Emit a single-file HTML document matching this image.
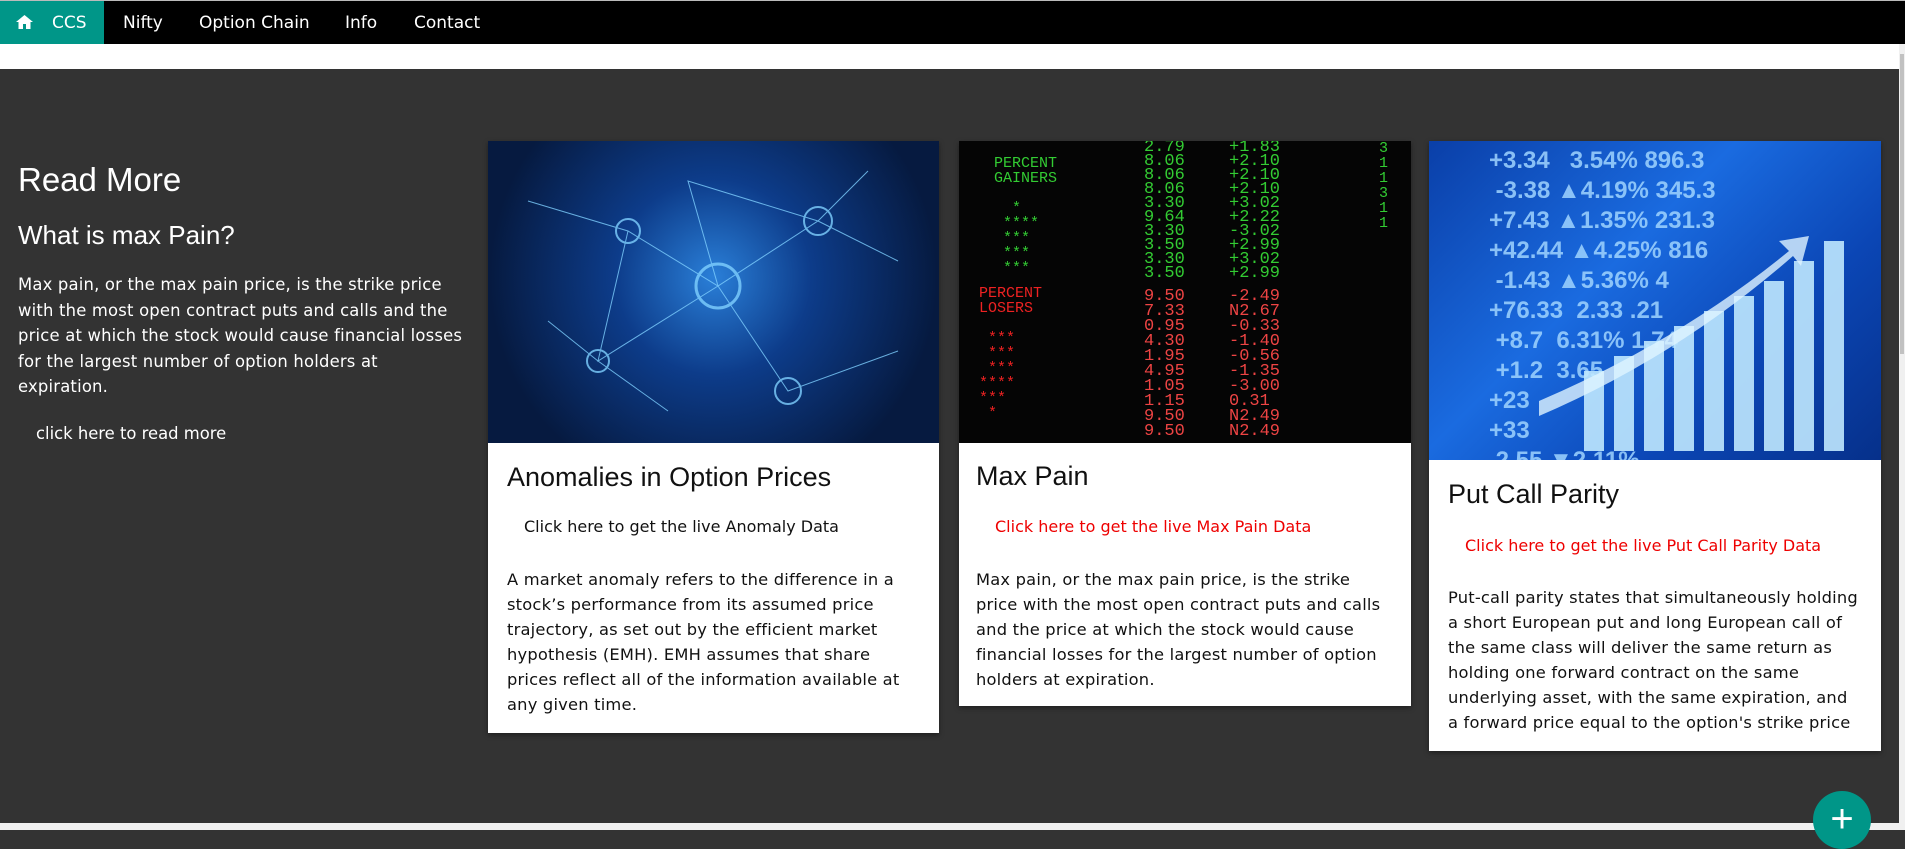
<!DOCTYPE html>
<html><head><meta charset="utf-8"><style>
*{margin:0;padding:0;box-sizing:border-box}
body{width:1905px;height:830px;overflow:hidden;background:#333;font-family:"DejaVu Sans",Verdana,sans-serif;position:relative}
.nav{position:absolute;left:0;top:0;width:1905px;height:44px;background:#000;border-top:1px solid #bbb}
.nav span{position:absolute;top:12px;color:#fff;font-size:17px}
.home{position:absolute;left:0;top:0;width:104px;height:43px;background:#009688}
.white{position:absolute;left:0;top:44px;width:1899px;height:25px;background:#fff}
.scroll{position:absolute;right:0;top:44px;width:6px;height:786px;background:#f0f0f0}
.scroll i{position:absolute;left:1px;top:10px;width:4px;height:300px;background:#c1c1c1}
.bottom{position:absolute;left:0;top:823px;width:1905px;height:7px;background:#f0f0f0}
h1,h2,.ct{font-family:"Liberation Sans",sans-serif;font-weight:normal;position:absolute}
.lt{color:#fff;position:absolute}
.card{position:absolute;background:#fff;box-shadow:0 2px 5px rgba(0,0,0,.4)}
.img{position:absolute;left:0;top:0;width:100%;overflow:hidden}
.ct{font-size:27px;color:#111;left:19px}
.lk{position:absolute;font-size:16px}
.ds{position:absolute;left:19px;right:20px;font-size:16.3px;letter-spacing:0.2px;line-height:25px;color:#111}
.fab{position:absolute;left:1813px;top:791px;width:58px;height:58px;border-radius:50%;background:#009688;color:#fff;font-size:40px;text-align:center;line-height:56px;font-family:"Liberation Sans",sans-serif}
</style></head><body>
<div class="nav">
<div class="home"></div>
<svg style="position:absolute;left:16px;top:14px" width="17" height="14" viewBox="0 0 17 14"><path d="M8.5 0L0 7h2.5v7h4.5V9h3v5h4.5V7H17z" fill="#fff"/></svg>
<span style="left:52px">CCS</span><span style="left:123px">Nifty</span><span style="left:199px">Option Chain</span><span style="left:345px">Info</span><span style="left:414px">Contact</span>
</div>
<div class="white"></div>
<div class="scroll"><i></i></div>
<div class="bottom"></div>

<h1 class="lt" style="left:18px;top:161px;font-size:33px">Read More</h1>
<h2 class="lt" style="left:18px;top:220px;font-size:26px">What is max Pain?</h2>
<div class="lt" style="left:18px;top:272px;width:455px;font-size:16.4px;letter-spacing:0.2px;line-height:25.5px">Max pain, or the max pain price, is the strike price with the most open contract puts and calls and the price at which the stock would cause financial losses for the largest number of option holders at expiration.</div>
<div class="lt" style="left:36px;top:424px;font-size:16.4px">click here to read more</div>

<div class="card" style="left:488px;top:141px;width:451px;height:592px">
<div class="img" style="height:302px;background:radial-gradient(circle at 50% 45%,#2a7fd8 0,#0d3c8a 35%,#061a40 80%)">
<svg width="451" height="302" style="position:absolute;left:0;top:0" stroke="#7fd0ff" stroke-width="1" fill="none" opacity=".8">
<path d="M40 60L140 90L230 145L330 80L410 120M140 90L110 220L230 145L300 250L410 210M230 145L200 40L330 80M60 180L110 220L180 270M330 80L380 30M300 250L230 145"/>
<circle cx="230" cy="145" r="22" stroke-width="3"/><circle cx="330" cy="80" r="14" stroke-width="2"/><circle cx="140" cy="90" r="12" stroke-width="2"/><circle cx="300" cy="250" r="13" stroke-width="2"/><circle cx="110" cy="220" r="11" stroke-width="2"/>
</svg></div>
<div class="ct" style="top:321px">Anomalies in Option Prices</div>
<div class="lk" style="left:36px;top:376px;color:#111">Click here to get the live Anomaly Data</div>
<div class="ds" style="top:426px">A market anomaly refers to the difference in a stock’s performance from its assumed price trajectory, as set out by the efficient market hypothesis (EMH). EMH assumes that share prices reflect all of the information available at any given time.</div>
</div>

<div class="card" style="left:959px;top:141px;width:452px;height:565px">
<div class="img" style="height:302px;background:#050505;font-family:'Liberation Mono',monospace;font-size:15px;line-height:15px">
<div style="position:absolute;left:35px;top:15px;color:#3c3">PERCENT<br>GAINERS<br><br>&nbsp;&nbsp;*<br>&nbsp;****<br>&nbsp;***<br>&nbsp;***<br>&nbsp;***</div>
<div style="position:absolute;left:20px;top:145px;color:#e22">PERCENT<br>LOSERS<br><br>&nbsp;***<br>&nbsp;***<br>&nbsp;***<br>****<br>***<br>&nbsp;*</div>
<div style="position:absolute;left:185px;top:0;color:#3c3;font-size:17px;line-height:14px">2.79<br>8.06<br>8.06<br>8.06<br>3.30<br>9.64<br>3.30<br>3.50<br>3.30<br>3.50</div>
<div style="position:absolute;left:270px;top:0;color:#3c3;font-size:17px;line-height:14px">+1.83<br>+2.10<br>+2.10<br>+2.10<br>+3.02<br>+2.22<br>-3.02<br>+2.99<br>+3.02<br>+2.99</div>
<div style="position:absolute;left:185px;top:148px;color:#e44;font-size:17px;line-height:15px">9.50<br>7.33<br>0.95<br>4.30<br>1.95<br>4.95<br>1.05<br>1.15<br>9.50<br>9.50</div>
<div style="position:absolute;left:270px;top:148px;color:#e44;font-size:17px;line-height:15px">-2.49<br>N2.67<br>-0.33<br>-1.40<br>-0.56<br>-1.35<br>-3.00<br>0.31<br>N2.49<br>N2.49</div>
<div style="position:absolute;left:420px;top:0;color:#3c3">3<br>1<br>1<br>3<br>1<br>1</div>
</div>
<div class="ct" style="top:320px;left:17px">Max Pain</div>
<div class="lk" style="left:36px;top:376px;color:#e00">Click here to get the live Max Pain Data</div>
<div class="ds" style="top:426px;left:17px">Max pain, or the max pain price, is the strike price with the most open contract puts and calls and the price at which the stock would cause financial losses for the largest number of option holders at expiration.</div>
</div>

<div class="card" style="left:1429px;top:141px;width:452px;height:610px">
<div class="img" style="height:319px;background:linear-gradient(135deg,#0a3fa8 0,#1a6be0 40%,#0b46b5 70%,#06308a 100%)">
<div style="position:absolute;left:60px;top:5px;color:#9fd4ff;font-family:'Liberation Sans';font-size:24px;line-height:30px;font-weight:bold;opacity:.85">+3.34 &nbsp; 3.54% 896.3<br>&nbsp;-3.38 ▲4.19% 345.3<br>+7.43 ▲1.35% 231.3<br>+42.44 ▲4.25% 816<br>&nbsp;-1.43 ▲5.36% 4<br>+76.33 &nbsp;2.33 .21<br>&nbsp;+8.7 &nbsp;6.31% 1.74<br>&nbsp;+1.2 &nbsp;3.65<br>+23<br>+33<br>&nbsp;2.55 ▼2.11%</div>
<svg width="452" height="319" style="position:absolute;left:0;top:0"><g fill="#bfe8ff" opacity=".9"><rect x="155" y="230" width="20" height="80"/><rect x="185" y="215" width="20" height="95"/><rect x="215" y="200" width="20" height="110"/><rect x="245" y="185" width="20" height="125"/><rect x="275" y="170" width="20" height="140"/><rect x="305" y="155" width="20" height="155"/><rect x="335" y="140" width="20" height="170"/><rect x="365" y="120" width="20" height="190"/><rect x="395" y="100" width="20" height="210"/></g><path d="M110 260Q250 200 360 110L350 100L380 95L372 125L364 115Q250 215 110 275Z" fill="#dff4ff" opacity=".8"/></svg>
</div>
<div class="ct" style="top:338px">Put Call Parity</div>
<div class="lk" style="left:36px;top:395px;color:#e00">Click here to get the live Put Call Parity Data</div>
<div class="ds" style="top:444px">Put-call parity states that simultaneously holding a short European put and long European call of the same class will deliver the same return as holding one forward contract on the same underlying asset, with the same expiration, and a forward price equal to the option's strike price</div>
</div>

<div class="fab">+</div>
</body></html>
